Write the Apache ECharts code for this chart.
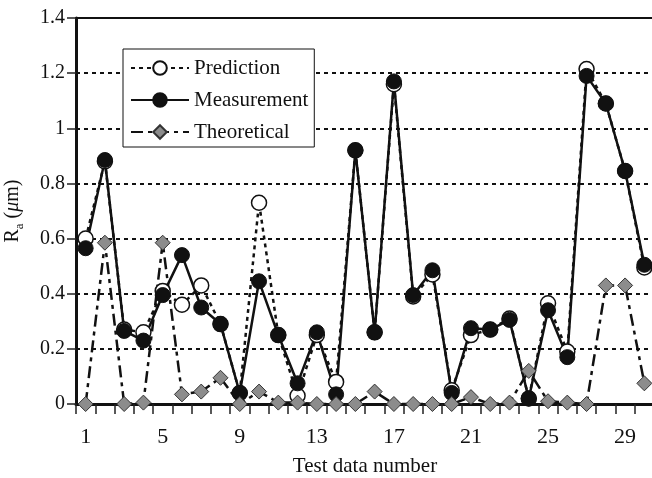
<!DOCTYPE html>
<html>
<head>
<meta charset="utf-8">
<script src="https://cdn.jsdelivr.net/npm/echarts@6/dist/echarts.min.js"></script>
<style>
  html, body { margin: 0; padding: 0; background: #fff; }
  #chart { width: 652px; height: 478px; }
</style>
</head>
<body>
<div id="chart"></div>
<script>
// test data numbers 1..30
const testNumbers = ['1','2','3','4','5','6','7','8','9','10','11','12','13','14','15',
  '16','17','18','19','20','21','22','23','24','25','26','27','28','29','30'];

// Ra values in micrometres
const prediction = [0.60, 0.88, 0.27, 0.26, 0.41, 0.36, 0.43, 0.29, 0.04, 0.73,
  0.25, 0.03, 0.25, 0.08, 0.92, 0.26, 1.16, 0.39, 0.47, 0.05,
  0.25, 0.27, 0.31, 0.02, 0.365, 0.19, 1.215, 1.09, 0.845, 0.495];
const measurement = [0.565, 0.885, 0.265, 0.23, 0.395, 0.54, 0.35, 0.29, 0.04, 0.445,
  0.25, 0.075, 0.26, 0.035, 0.92, 0.26, 1.17, 0.395, 0.485, 0.04,
  0.275, 0.27, 0.305, 0.02, 0.34, 0.17, 1.19, 1.09, 0.845, 0.505];
const theoretical = [0, 0.585, 0, 0.005, 0.585, 0.035, 0.045, 0.095, 0, 0.045,
  0.005, 0.005, 0, 0, 0, 0.045, 0, 0, 0, 0,
  0.025, 0, 0.005, 0.12, 0.01, 0.005, 0, 0.43, 0.43, 0.075];

const serif = 'Liberation Serif';
const chart = echarts.init(document.getElementById('chart'));

const option = {
  animation: false,
  backgroundColor: '#fff',
  textStyle: { fontFamily: serif, color: '#111' },
  grid: {
    left: 76, top: 18, width: 578, height: 386,
    outerBoundsMode: 'none',
    containLabel: false,
    show: true, borderColor: '#111', borderWidth: 2
  },
  legend: {
    left: 123, top: 49,
    orient: 'vertical',
    padding: [8, 6, 4, 7],
    backgroundColor: '#fff',
    borderColor: '#111',
    borderWidth: 1,
    itemWidth: 58,
    itemHeight: 17,
    itemGap: 10,
    textStyle: { fontFamily: serif, fontSize: 21, color: '#111', lineHeight: 22 },
    data: ['Prediction', 'Measurement', 'Theoretical']
  },
  xAxis: {
    type: 'category',
    data: testNumbers,
    boundaryGap: true,
    name: 'Test data number',
    nameLocation: 'middle',
    nameGap: 52,
    nameTextStyle: { fontFamily: serif, fontSize: 21, color: '#111' },
    axisLine: { show: true, onZero: false, lineStyle: { color: '#111', width: 3 } },
    axisTick: { show: true, interval: 0, inside: false, length: 10, lineStyle: { color: '#222', width: 1.5 } },
    axisLabel: { interval: 3, fontFamily: serif, fontSize: 22, color: '#111', margin: 22 },
    splitLine: { show: false }
  },
  yAxis: {
    type: 'value',
    min: 0, max: 1.4, interval: 0.2,
    name: '{r|R}{s|a}{n| (}{mu|μ}{n|m)}',
    nameLocation: 'middle',
    nameGap: 50,
    nameRotate: 90,
    nameTextStyle: {
      fontFamily: serif, fontSize: 20, color: '#111',
      rich: {
        r: { fontFamily: serif, fontSize: 20, color: '#111' },
        s: { fontFamily: serif, fontSize: 13, color: '#111', verticalAlign: 'bottom', lineHeight: 26 },
        n: { fontFamily: serif, fontSize: 20, color: '#111' },
        mu: { fontFamily: serif, fontSize: 20, fontStyle: 'italic', color: '#111' }
      }
    },
    axisLine: { show: true, lineStyle: { color: '#111', width: 3 } },
    axisTick: { show: true, inside: false, length: 9, lineStyle: { color: '#222', width: 1.5 } },
    axisLabel: { fontFamily: serif, fontSize: 20, color: '#111', margin: 11 },
    splitLine: { show: true, lineStyle: { color: '#111', width: 2, type: [4, 4] } }
  },
  series: [
    {
      name: 'Prediction',
      type: 'line',
      data: prediction,
      symbol: 'circle',
      symbolSize: 15,
      showAllSymbol: true,
      lineStyle: { color: '#111', width: 2.5, type: [4, 4] },
      itemStyle: { color: '#fff', borderColor: '#111', borderWidth: 1.5 }
    },
    {
      name: 'Measurement',
      type: 'line',
      data: measurement,
      symbol: 'circle',
      symbolSize: 15,
      showAllSymbol: true,
      lineStyle: { color: '#111', width: 2.5, type: 'solid' },
      itemStyle: { color: '#111', borderColor: '#111', borderWidth: 1 }
    },
    {
      name: 'Theoretical',
      type: 'line',
      data: theoretical,
      symbol: 'diamond',
      symbolSize: [15, 15],
      showAllSymbol: true,
      lineStyle: { color: '#111', width: 2.5, type: [12, 5, 4, 5] },
      itemStyle: { color: '#8c8c8c', borderColor: '#333', borderWidth: 1 }
    }
  ]
};

chart.setOption(option);
</script>
</body>
</html>
